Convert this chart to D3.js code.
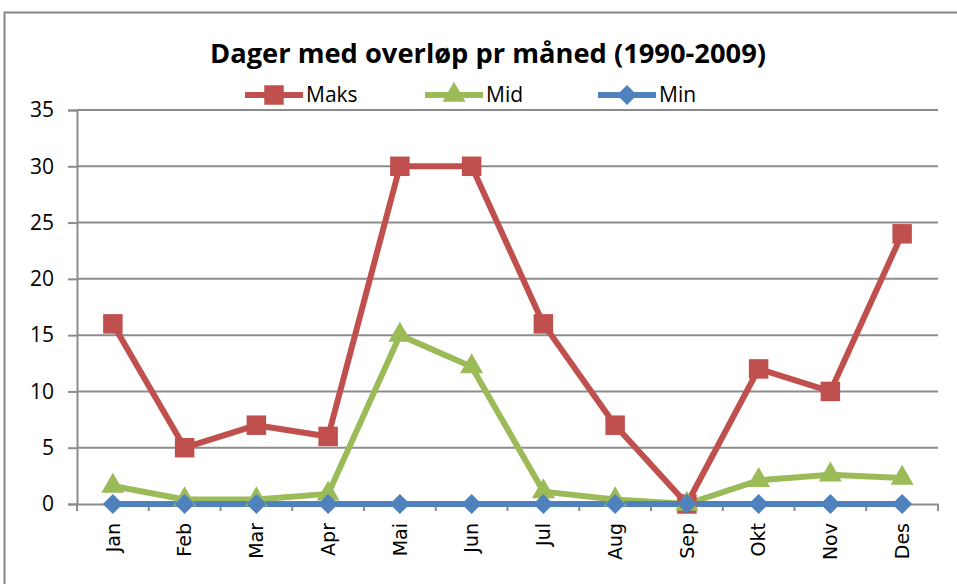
<!DOCTYPE html>
<html><head><meta charset="utf-8">
<script src="https://cdn.jsdelivr.net/npm/d3@7"></script>
<style>body{margin:0;background:#fff}svg{display:block}</style>
</head><body>
<svg id="c" width="957" height="584"></svg>
<script>
const months = ["Jan","Feb","Mar","Apr","Mai","Jun","Jul","Aug","Sep","Okt","Nov","Des"];
const maks = [16,5,7,6,30,30,16,7,0,12,10,24];
const mid = [1.6,0.4,0.4,0.9,15,12.2,1.1,0.4,0,2.1,2.6,2.3];
const minv = [0,0,0,0,0,0,0,0,0,0,0,0];
const yTicks = [0,5,10,15,20,25,30,35];
const title = "Dager med overløp pr måned (1990-2009)";
const seriesNames = ["Maks","Mid","Min"];
const colors = ["#C0504D","#9BBB59","#4F81BD"];

const svg = d3.select("#c");
const cal = "'Liberation Sans Narrow','Open Sans',sans-serif";
svg.append("rect").attr("x",4.5).attr("y",12.5).attr("width",1000).attr("height",1000)
  .attr("fill","none").attr("stroke","#868686").attr("stroke-width",2);

const L=77,R=938,T=110,B=504;
const x = d3.scaleBand().domain(months).range([L,R]);
const y = d3.scaleLinear().domain([0,35]).range([B,T]);
const cx = d => x(d)+x.bandwidth()/2;

svg.append("g").selectAll("line").data(yTicks.filter(v=>v>0)).join("line")
  .attr("x1",L).attr("x2",R).attr("y1",d=>y(d)).attr("y2",d=>y(d))
  .attr("stroke","#8c8c8c").attr("stroke-width",2);

const ya = svg.append("g").attr("transform",`translate(${L},0)`)
  .call(d3.axisLeft(y).tickValues(yTicks).tickSize(9).tickPadding(14));
ya.select(".domain").attr("stroke","#8c8c8c").attr("stroke-width",2);
ya.selectAll(".tick line").attr("stroke","#8c8c8c").attr("stroke-width",2);
ya.selectAll(".tick text").attr("font-family",cal).attr("font-size",21).attr("fill","#000");

const xa = svg.append("g").attr("transform",`translate(0,${B})`)
  .call(d3.axisBottom(x).tickSize(0).tickFormat(""));
xa.select(".domain").attr("stroke","#8c8c8c").attr("stroke-width",2);
svg.append("g").selectAll("line").data(months.concat(["_end"])).join("line")
  .attr("x1",(d,i)=>L+i*x.bandwidth()).attr("x2",(d,i)=>L+i*x.bandwidth())
  .attr("y1",B).attr("y2",B+7).attr("stroke","#8c8c8c").attr("stroke-width",2);
svg.append("g").selectAll("text").data(months).join("text")
  .attr("transform",d=>`translate(${cx(d)},523) rotate(-90)`)
  .attr("text-anchor","end").attr("dy","0.36em")
  .attr("font-family","'DejaVu Sans',sans-serif").attr("font-size",19).attr("fill","#000")
  .text(d=>d);

const data=[maks,mid,minv];
const line = d3.line().x((d,i)=>cx(months[i])).y(d=>y(d));
const sym = [d3.symbolSquare,d3.symbolTriangle,d3.symbolSquare];
const symSize=[380,230,200];
const rot=[0,0,45];

data.forEach((s,k)=>{
  svg.append("path").datum(s).attr("d",line).attr("fill","none")
    .attr("stroke",colors[k]).attr("stroke-width",6).attr("stroke-linejoin","round");
});
data.forEach((s,k)=>{
  svg.append("g").selectAll("path").data(s).join("path")
    .attr("transform",(d,i)=>`translate(${cx(months[i])},${y(d)}) rotate(${rot[k]})`)
    .attr("d",d3.symbol().type(sym[k]).size(symSize[k])).attr("fill",colors[k]);
});

svg.append("text").attr("x",488).attr("y",63).attr("text-anchor","middle")
  .attr("font-family",cal).attr("font-weight","bold").attr("font-size",27)
  .attr("textLength",556).attr("lengthAdjust","spacingAndGlyphs").text(title);

const lx=[245,425,598];
seriesNames.forEach((n,k)=>{
  const g=svg.append("g");
  g.append("line").attr("x1",lx[k]).attr("x2",lx[k]+58).attr("y1",95).attr("y2",95)
    .attr("stroke",colors[k]).attr("stroke-width",6);
  g.append("path").attr("transform",`translate(${lx[k]+29},95) rotate(${rot[k]})`)
    .attr("d",d3.symbol().type(sym[k]).size(symSize[k])).attr("fill",colors[k]);
  g.append("text").attr("x",lx[k]+61).attr("y",95).attr("dy","0.35em")
    .attr("font-family",cal).attr("font-size",21).text(n);
});
</script>
</body></html>
